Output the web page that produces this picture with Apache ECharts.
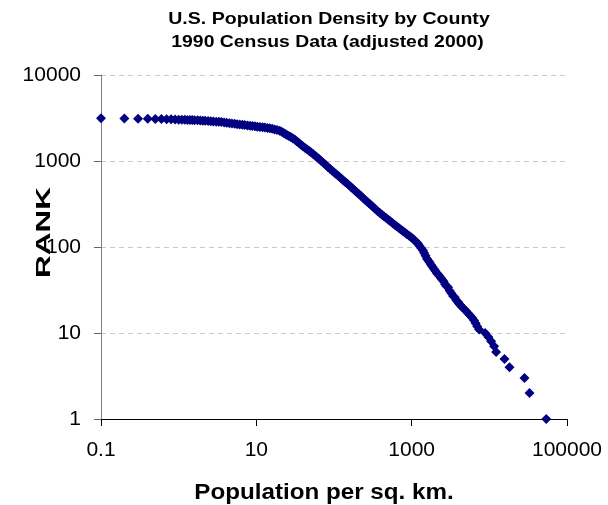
<!DOCTYPE html>
<html><head><meta charset="utf-8">
<script src="https://cdn.jsdelivr.net/npm/echarts@6/dist/echarts.min.js"></script>
<style>html,body{margin:0;padding:0;background:#fff}#c{width:608px;height:505px}</style>
</head><body><div id="c"></div>
<script>
const titleLines = ['U.S. Population Density by County', '1990 Census Data (adjusted 2000)'];
const xAxisName = 'Population per sq. km.';
const yAxisName = 'RANK';
const xTicks = [0.1, 10, 1000, 100000];
const yTicks = [1, 10, 100, 1000, 10000];

const density = [
  0.1, 0.2, 0.3, 0.4, 0.5, 0.6, 0.7, 0.8, 0.9, 1.0,
  1.1, 1.2, 1.3, 1.4, 1.5, 1.6, 1.75, 1.9, 2.05, 2.2,
  2.4, 2.6, 2.8, 3.05, 3.3, 3.55, 3.85, 4.15, 4.5, 4.85,
  5.25, 5.65, 6.1, 6.6, 7.1, 7.7, 8.3, 8.9, 9.6, 10.3,
  11.1, 12, 12.9, 13.9, 14.9, 16, 17.2, 18.5, 20, 21.2,
  22.5, 23.6, 24.8, 26.2, 27.7, 29.4, 31.2, 33.1, 35.1, 37.3,
  39.6, 42.1, 44.8, 47.6, 50.6, 53.8, 57.2, 60.9, 64.8, 69,
  73.5, 78.3, 83.4, 88.8, 94.6, 100.7, 107, 114, 121, 129,
  137, 145, 154, 164, 174, 185, 197, 210, 223, 237,
  252, 268, 285, 303, 322, 343, 365, 390, 415, 442,
  470, 500, 532, 566, 602, 640, 680, 723, 769, 818,
  870, 925, 983, 1039, 1095, 1150, 1206, 1265, 1330, 1399,
  1450, 1510, 1576, 1640, 1705, 1775, 1850, 1930, 2012, 2102,
  2190, 2280, 2370, 2460, 2570, 2690, 2810, 2941, 3090, 3245,
  3411, 3580, 3760, 3958, 4050, 4250, 4457, 4730, 5020, 5327,
  5653, 6000, 6367, 6657, 6961, 7386, 8830, 9730, 10540, 11530,
  12240, 15670, 18170, 28370, 32900, 54100
];
const rank = [
  3141, 3120, 3104, 3092, 3080, 3070, 3060, 3050, 3040, 3025,
  3015, 3009, 3003, 2997, 2991, 2984, 2975, 2962, 2945, 2931,
  2914, 2898, 2884, 2868, 2852, 2833, 2805, 2780, 2754, 2729,
  2704, 2680, 2657, 2634, 2614, 2591, 2570, 2550, 2530, 2510,
  2489, 2466, 2445, 2426, 2407, 2366, 2328, 2290, 2251, 2184,
  2116, 2064, 2012, 1954, 1897, 1837, 1778, 1701, 1627, 1553,
  1486, 1426, 1368, 1313, 1260, 1205, 1149, 1096, 1045, 994,
  945, 898, 854, 812, 772, 736, 702, 668, 638, 607,
  579, 555, 528, 502, 479, 455, 432, 411, 391, 371,
  353, 336, 320, 304, 289, 274, 261, 248, 237, 227,
  217, 208, 199, 190, 182, 174, 167, 160, 153, 147,
  141, 135, 130, 125, 119, 114, 109, 103, 97, 91,
  85, 79, 73, 69, 66, 62, 59, 56, 53, 50,
  48, 46, 44, 42, 40, 37, 35, 34, 31, 29,
  27, 26, 24, 23, 22, 21, 20, 19, 18, 17,
  16, 15, 14, 13, 12, 11, 10, 9, 8, 7,
  6, 5, 4, 3, 2, 1
];

const fmt = v => String(+Number(v).toPrecision(6));
const chart = echarts.init(document.getElementById('c'), null, {renderer: 'canvas'});
chart.setOption({
  animation: false,
  backgroundColor: '#fff',
  grid: {left: 101, right: 41, top: 75, bottom: 86, containLabel: false, outerBoundsMode: 'none'},
  xAxis: {
    type: 'log', logBase: 10, min: 0.1, max: 100000,
    axisLine: {show: true, onZero: false, lineStyle: {color: '#000', width: 1}},
    axisTick: {show: true, inside: false, length: 7, customValues: xTicks, lineStyle: {color: '#000'}},
    axisLabel: {customValues: xTicks, formatter: fmt, margin: 21, color: '#000', fontSize: 21, fontFamily: 'Liberation Sans'},
    splitLine: {show: false},
    minorTick: {show: false}
  },
  yAxis: {
    type: 'log', logBase: 10, min: 1, max: 10000,
    axisLine: {show: true, onZero: false, lineStyle: {color: '#808080', width: 1}},
    axisTick: {show: true, inside: false, length: 7, customValues: yTicks, lineStyle: {color: '#666'}},
    axisLabel: {customValues: yTicks, formatter: fmt, margin: 20, color: '#000', fontSize: 21, fontFamily: 'Liberation Sans'},
    splitLine: {show: true, lineStyle: {color: '#c8c8c8', type: [5, 4], width: 1}}
  },
  graphic: [
    {type: 'text', x: 329, y: 19.5, scaleX: 1.15, z: 10,
     style: {text: titleLines[0], font: 'bold 17px "Liberation Sans"', fill: '#000', align: 'center', verticalAlign: 'middle'}},
    {type: 'text', x: 327.5, y: 42.8, scaleX: 1.14, z: 10,
     style: {text: titleLines[1], font: 'bold 17px "Liberation Sans"', fill: '#000', align: 'center', verticalAlign: 'middle'}},
    {type: 'text', x: 324, y: 492.8, scaleX: 1.1, z: 10,
     style: {text: xAxisName, font: 'bold 22px "Liberation Sans"', fill: '#000', align: 'center', verticalAlign: 'middle'}},
    {type: 'text', x: 44.5, y: 232.5, rotation: Math.PI / 2, scaleX: 1.5, z: 10,
     style: {text: yAxisName, font: 'bold 21px "Liberation Sans"', fill: '#000', align: 'center', verticalAlign: 'middle'}}
  ],
  series: [{
    type: 'scatter',
    clip: false,
    symbol: 'diamond',
    symbolSize: 10,
    itemStyle: {color: '#000080', opacity: 1},
    emphasis: {disabled: true},
    data: density.map((d, i) => [d, rank[i]])
  }]
});
</script>
</body></html>
